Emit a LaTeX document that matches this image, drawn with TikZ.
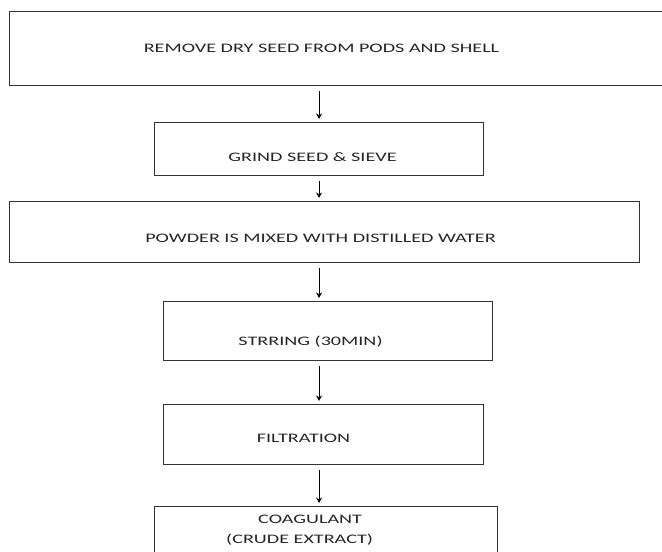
\documentclass[tikz,border=0pt]{standalone}
\usepackage{fontspec}
\setmainfont{Carlito}[FakeStretch=1.55]
\usetikzlibrary{arrows.meta,positioning}
\tikzset{
  x=1pt, y=-1pt, >={Stealth[length=5.5pt, width=6pt]},
  every node/.style={font=\fontsize{13}{20}\selectfont, text=black!85},
  every label/.style={inner sep=0pt},
  stepbox/.style={draw=black!80, line width=1.1pt, anchor=north west,
    inner sep=0pt},
  flow/.style={->, line width=1pt, shorten <=5pt, shorten >=3pt}
  }

\begin{document}
\begin{tikzpicture}

    \useasboundingbox (0,0) rectangle (662,552);
    \clip (0,0) rectangle (662,552);

    \node [stepbox, minimum width=663pt, minimum height=74pt,
      label={[xshift=-19.5pt]center:REMOVE DRY SEED FROM PODS AND SHELL}]
      at (9,11) (remove) {};
    \node [stepbox, minimum width=329pt, minimum height=53pt,
      label={[xshift=-6.5pt, yshift=-8.5pt]center:GRIND SEED \& SIEVE}]
      at (154,122) (grind) {};
    \node [stepbox, minimum width=630pt, minimum height=61pt,
      label={[xshift=-4pt, yshift=-6pt]center:POWDER IS MIXED WITH DISTILLED WATER}]
      at (9,201) (powder) {};
    \node [stepbox, minimum width=329pt, minimum height=59pt,
      label={[xshift=-17.5pt, yshift=-10.5pt]center:STRRING (30MIN)}]
      at (163,301) (stir) {};
    \node [stepbox, minimum width=320pt, minimum height=60pt,
      label={[xshift=-20pt, yshift=-4pt]center:FILTRATION}]
      at (163,404) (filter) {};
    \node [stepbox, minimum width=343pt, minimum height=48pt,
      label={[anchor=west, xshift=72pt, align=left]west:\hspace*{32pt}COAGULANT\\(CRUDE EXTRACT)}]
      at (154,506) (coag) {};

    % arrows all run down the same vertical line
    \draw [flow] (remove.south -| grind) -- (grind.north);
    \draw [flow] (grind.south) -- (powder.north -| grind);
    \draw [flow] (powder.south -| grind) -- (stir.north -| grind);
    \draw [flow] (stir.south -| grind) -- (filter.north -| grind);
    \draw [flow] (filter.south -| grind) -- (coag.north -| grind);

\end{tikzpicture}
\end{document}
